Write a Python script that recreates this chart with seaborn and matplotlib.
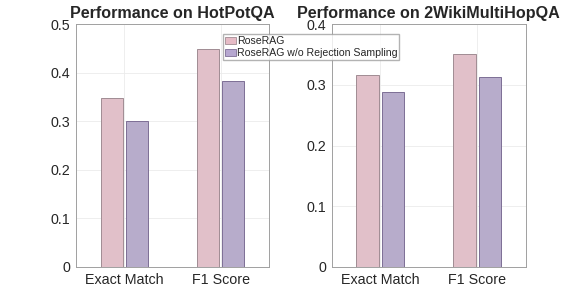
import pandas as pd
import seaborn as sns
import matplotlib.pyplot as plt
from matplotlib.patches import Patch

# data
metrics = ['Exact Match', 'F1 Score']
methods = ['RoseRAG', 'RoseRAG w/o Rejection Sampling']
hotpot_rose = [0.348, 0.449]
hotpot_norej = [0.300, 0.383]
wiki_rose = [0.316, 0.351]
wiki_norej = [0.288, 0.312]

colors = ['#e6bbc6', '#b6a7d0']
edges = ['#a08c93', '#7d6e95']

sns.set_style('white')
plt.rcParams['font.family'] = ['Liberation Sans', 'DejaVu Sans']


def make_df(rose, norej):
    return pd.DataFrame({
        'metric': metrics * 2,
        'method': [methods[0]] * 2 + [methods[1]] * 2,
        'score': rose + norej,
    })


fig = plt.figure(figsize=(5.81, 3.0), dpi=100)
ax1 = fig.add_axes([0.1308, 0.11, 0.332, 0.81])
ax2 = fig.add_axes([0.5706, 0.11, 0.334, 0.81])

panels = [
    (ax1, make_df(hotpot_rose, hotpot_norej), 'Performance on HotPotQA', 0.5),
    (ax2, make_df(wiki_rose, wiki_norej), 'Performance on 2WikiMultiHopQA', 0.4),
]

for ax, df, title, ymax in panels:
    sns.barplot(data=df, x='metric', y='score', hue='method', hue_order=methods,
                palette=colors, width=0.52, gap=0.12, ax=ax, legend=False,
                linewidth=0.7, zorder=3)
    # darker outlines per series
    for i, cont in enumerate(ax.containers):
        for bar in cont:
            bar.set_edgecolor(edges[i])
    ax.set_xlim(-0.5, 1.5)
    ax.set_ylim(0, ymax)
    n = int(round(ymax * 10))
    ax.set_yticks([round(0.1 * k, 1) for k in range(n + 1)])
    ax.set_yticklabels(['0'] + [f'{0.1 * k:.1f}' for k in range(1, n + 1)])
    ax.set_xlabel('')
    ax.set_ylabel('')
    ax.set_title(title, fontsize=11.6, fontweight='bold', pad=4)
    ax.grid(True, color='#ebebeb', linewidth=0.6, zorder=0)
    ax.set_axisbelow(True)
    for s in ax.spines.values():
        s.set_color('#a0a0a0')
        s.set_linewidth(0.7)
    ax.tick_params(direction='in', length=3, color='#a0a0a0', labelsize=10.3,
                   labelcolor='#262626', pad=4, top=False, right=False)

handles = [Patch(facecolor=colors[i], edgecolor=edges[i], linewidth=0.6) for i in range(2)]
fig.legend(handles, methods, loc='upper left', bbox_to_anchor=(223 / 581, 1 - 34 / 300),
           fontsize=7.6, frameon=True, fancybox=False, edgecolor='#a0a0a0',
           handlelength=1.0, handleheight=0.7, handletextpad=0.1,
           borderpad=0.2, labelspacing=0.2, borderaxespad=0)

fig.savefig('out.png', dpi=100)
